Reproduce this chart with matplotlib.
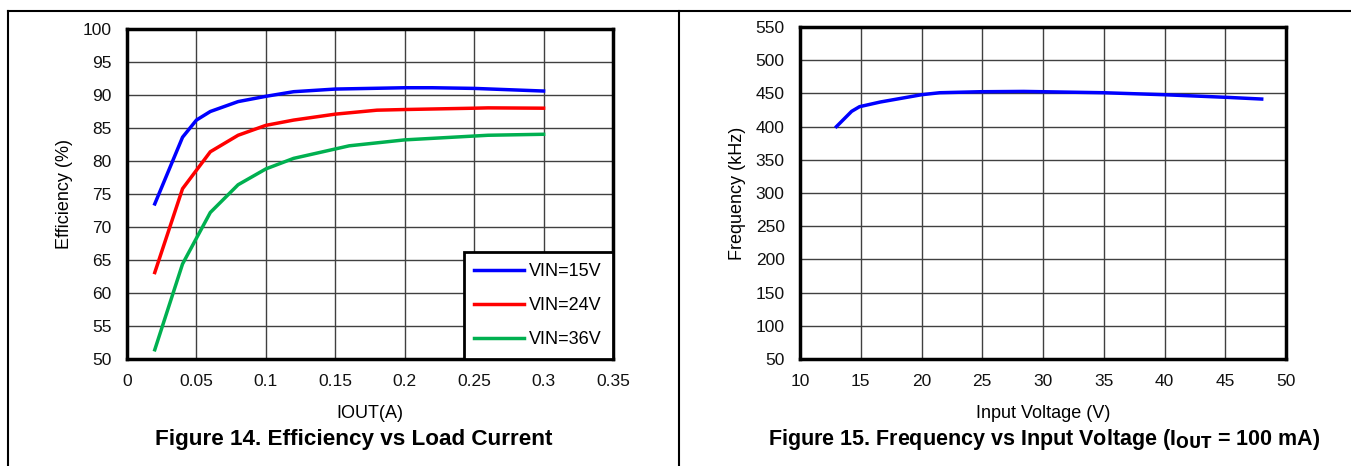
import numpy as np
import matplotlib
matplotlib.use('Agg')
import matplotlib.pyplot as plt
from matplotlib.lines import Line2D

plt.rcParams['font.family'] = ['Liberation Sans', 'DejaVu Sans']

# Данные: КПД от тока нагрузки
iout = [0.02, 0.04, 0.05, 0.06, 0.08, 0.1, 0.12, 0.15, 0.2, 0.22, 0.25, 0.3]
eff_15v = [73.5, 83.6, 86.2, 87.5, 89.0, 89.8, 90.5, 90.9, 91.1, 91.1, 91.0, 90.6]
iout_24 = [0.02, 0.04, 0.06, 0.08, 0.1, 0.12, 0.15, 0.18, 0.2, 0.25, 0.26, 0.3]
eff_24v = [63.1, 75.8, 81.4, 83.9, 85.4, 86.2, 87.1, 87.7, 87.8, 88.0, 88.05, 88.0]
iout_36 = [0.02, 0.04, 0.06, 0.08, 0.1, 0.12, 0.16, 0.2, 0.26, 0.3]
eff_36v = [51.4, 64.4, 72.2, 76.4, 78.8, 80.4, 82.3, 83.2, 83.9, 84.05]

# Данные: частота от входного напряжения
vin = [13, 14.25, 14.9, 16.6, 20, 21.5, 24.8, 28.4, 31.7, 35, 40, 45.2, 48]
freq = [400, 423, 430, 437, 448, 451, 452.5, 453, 452, 451, 448, 444, 441.5]

W, H = 1351, 466
fig = plt.figure(figsize=(W / 100, H / 100), dpi=100)


def px_axes(left, top, right, bottom):
    return fig.add_axes([left / W, 1 - bottom / H, (right - left) / W, (bottom - top) / H])


def style(ax):
    ax.grid(True, color='0.25', linewidth=1)
    ax.set_axisbelow(True)
    for s in ax.spines.values():
        s.set_linewidth(2.5)
        s.set_color('black')
    ax.tick_params(length=0, labelsize=12.5, colors='#111111')
    ax.tick_params(axis='x', pad=11)
    ax.tick_params(axis='y', pad=11)


# Левый график
ax1 = px_axes(127, 29, 613, 359)
ax1.plot(iout, eff_15v, color='#0000FF', lw=2.5, label='VIN=15V')
ax1.plot(iout_24, eff_24v, color='#FF0000', lw=2.5, label='VIN=24V')
ax1.plot(iout_36, eff_36v, color='#00B050', lw=2.5, label='VIN=36V')
ax1.set_xlim(0, 0.35)
ax1.set_ylim(50, 100)
ax1.set_xticks(np.arange(0, 0.36, 0.05))
ax1.set_xticklabels(['0', '0.05', '0.1', '0.15', '0.2', '0.25', '0.3', '0.35'])
ax1.set_yticks(np.arange(50, 101, 5))
style(ax1)
ax1.set_xlabel('IOUT(A)', fontsize=13, labelpad=11)
ax1.set_ylabel('Efficiency (%)', fontsize=13, labelpad=7)
leg = ax1.legend(loc='lower right', borderaxespad=0, fancybox=False, framealpha=1,
                 edgecolor='black', fontsize=13, handlelength=2.75, labelspacing=0.95,
                 borderpad=0.6, handletextpad=0.3)
leg.get_frame().set_linewidth(2)

# Правый график
ax2 = px_axes(800, 27, 1286, 359)
ax2.plot(vin, freq, color='#0000FF', lw=2.5)
ax2.set_xlim(10, 50)
ax2.set_ylim(50, 550)
ax2.set_xticks(np.arange(10, 51, 5))
ax2.set_yticks(np.arange(50, 551, 50))
style(ax2)
ax2.set_xlabel('Input Voltage (V)', fontsize=13, labelpad=11)
ax2.set_ylabel('Frequency (kHz)', fontsize=13, labelpad=7)

# Подписи рисунков
fig.text(354 / W, 1 - 440 / H, 'Figure 14. Efficiency vs Load Current', ha='center', va='center',
         fontsize=16.2, fontweight='bold')
fig.text(1044 / W, 1 - 440 / H, r'Figure 15. Frequency vs Input Voltage (I$_{\mathbf{OUT}}$ = 100 mA)',
         ha='center', va='center', fontsize=15.5, fontweight='bold')

# Рамка таблицы
fig.add_artist(Line2D([8 / W, 1], [1 - 11 / H] * 2, color='black', lw=1.5))
fig.add_artist(Line2D([8 / W] * 2, [0, 1 - 11 / H], color='black', lw=1.5))
fig.add_artist(Line2D([679 / W] * 2, [0, 1 - 11 / H], color='black', lw=1.5))

fig.savefig('out.png', dpi=100)
